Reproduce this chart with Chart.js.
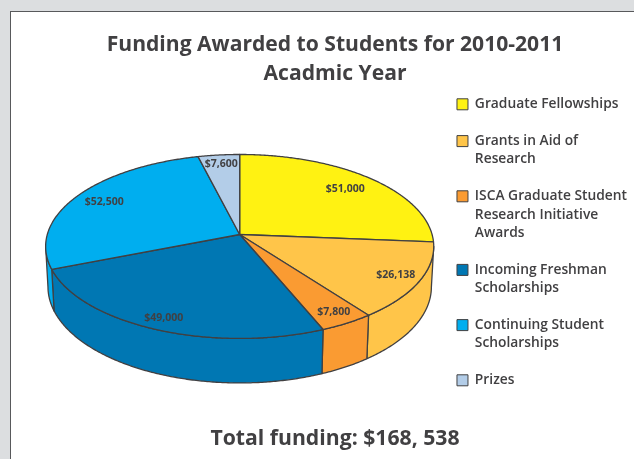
<!DOCTYPE html>
<html>
<head>
<meta charset="utf-8">
<style>
html,body{margin:0;padding:0;width:634px;height:459px;overflow:hidden;background:#dcdee0;}
#panel{position:absolute;left:10px;top:11px;width:800px;height:800px;background:#fff;border:1.5px solid #58595b;}
#wrap{position:absolute;left:33px;top:0;width:604px;height:459px;}
</style>
<script src="https://cdn.jsdelivr.net/npm/chart.js@4"></script>
</head>
<body>
<div id="panel"></div>
<div id="wrap"><canvas id="c" width="604" height="459"></canvas></div>
<script>
const categories = [
  ['Graduate Fellowships'],
  ['Grants in Aid of','Research'],
  ['ISCA Graduate Student','Research Initiative','Awards'],
  ['Incoming Freshman','Scholarships'],
  ['Continuing Student','Scholarships'],
  ['Prizes']
];
const values = [51000, 26138, 7800, 49000, 52500, 7600];
const valueLabels = ['$51,000','$26,138','$7,800','$49,000','$52,500','$7,600'];
const sliceColors = ['#FFF212','#FFC549','#FA9B32','#0077B3','#00AEEF','#B3CDE8'];
const titleLines = ['Funding Awarded to Students for 2010-2011','Acadmic Year'];
const totalLine = 'Total funding: $168, 538';
const labelReach = [0.8, 0.875, 0.89, 0.9, 0.83, 0.87];

const INK = '#414042';
const FONT = '"Open Sans", sans-serif';
const shiftX = 3.9, shiftY = -11;      // pie apex relative to the chart-area centre
const tilt = 0.47, persp = 0.13, depth = 40.5, shrink = 0.012;

const pie3d = {
  id: 'pie3d',
  beforeDatasetsDraw(chart) {
    const ctx = chart.ctx, arcs = chart.getDatasetMeta(0).data;
    const ax = arcs[0].x + shiftX, ay = arcs[0].y + shiftY, R = arcs[0].outerRadius;
    const P = (t, f, h) => {
      const w = 1 - persp * f * Math.sin(t) + shrink * h;
      return [ax + R * f * Math.cos(t) / w, ay + (R * tilt * f * Math.sin(t) + depth * h) / w];
    };
    const step = Math.PI / 360;
    const rim = (a, b, h) => {
      const pts = [], n = Math.max(1, Math.ceil(Math.abs(b - a) / step));
      for (let i = 0; i <= n; i++) pts.push(P(a + (b - a) * i / n, 1, h));
      return pts;
    };
    const trace = (pts) => { pts.forEach((p, i) => i ? ctx.lineTo(p[0], p[1]) : ctx.moveTo(p[0], p[1])); };
    ctx.save();
    ctx.lineJoin = 'round';
    ctx.lineWidth = 1.3;
    ctx.strokeStyle = INK;
    // side walls, only the part that faces the viewer
    const t0 = Math.asin(persp), t1 = Math.PI - t0;
    arcs.forEach((el, i) => {
      const a = Math.max(el.startAngle, t0), b = Math.min(el.endAngle, t1);
      if (b <= a) return;
      ctx.beginPath();
      trace(rim(a, b, 0).concat(rim(b, a, 1)));
      ctx.closePath();
      ctx.fillStyle = sliceColors[i];
      ctx.fill();
      ctx.stroke();
    });
    // top face
    arcs.forEach((el, i) => {
      ctx.beginPath();
      trace([[ax, ay]].concat(rim(el.startAngle, el.endAngle, 0)));
      ctx.closePath();
      ctx.fillStyle = sliceColors[i];
      ctx.fill();
      ctx.stroke();
    });
    // value labels
    ctx.fillStyle = INK;
    ctx.font = 'bold 10.5px "Liberation Sans Narrow", ' + FONT;
    ctx.textAlign = 'center';
    ctx.textBaseline = 'middle';
    arcs.forEach((el, i) => {
      const mid = (el.startAngle + el.endAngle) / 2;
      const p = P(mid, labelReach[i], 0);
      ctx.fillText(valueLabels[i], p[0], p[1]);
    });
    ctx.restore();
    return false;
  }
};

new Chart(document.getElementById('c'), {
  type: 'pie',
  data: {
    labels: categories,
    datasets: [{ data: values, backgroundColor: sliceColors, borderColor: INK, borderWidth: 1, radius: 192.4 }]
  },
  plugins: [pie3d],
  options: {
    responsive: false,
    animation: false,
    layout: { padding: 0 },
    plugins: {
      tooltip: { enabled: false },
      title: {
        display: true,
        text: titleLines,
        color: INK,
        font: { family: FONT, size: 21.1, weight: '700', lineHeight: 29 / 21.1 },
        padding: { top: 30, bottom: -9 }
      },
      subtitle: {
        display: true,
        position: 'bottom',
        text: totalLine,
        color: INK,
        font: { family: FONT, size: 21.2, weight: '700', lineHeight: 28 / 21.2 },
        padding: { top: 13, bottom: 6 }
      },
      legend: {
        position: 'right',
        align: 'start',
        fullSize: false,
        labels: {
          boxWidth: 11,
          boxHeight: 11,
          padding: 18.4,
          color: INK,
          font: { family: FONT, size: 13.8, weight: '600', lineHeight: 18.4 / 13.8 }
        }
      }
    }
  }
});
</script>
</body>
</html>
